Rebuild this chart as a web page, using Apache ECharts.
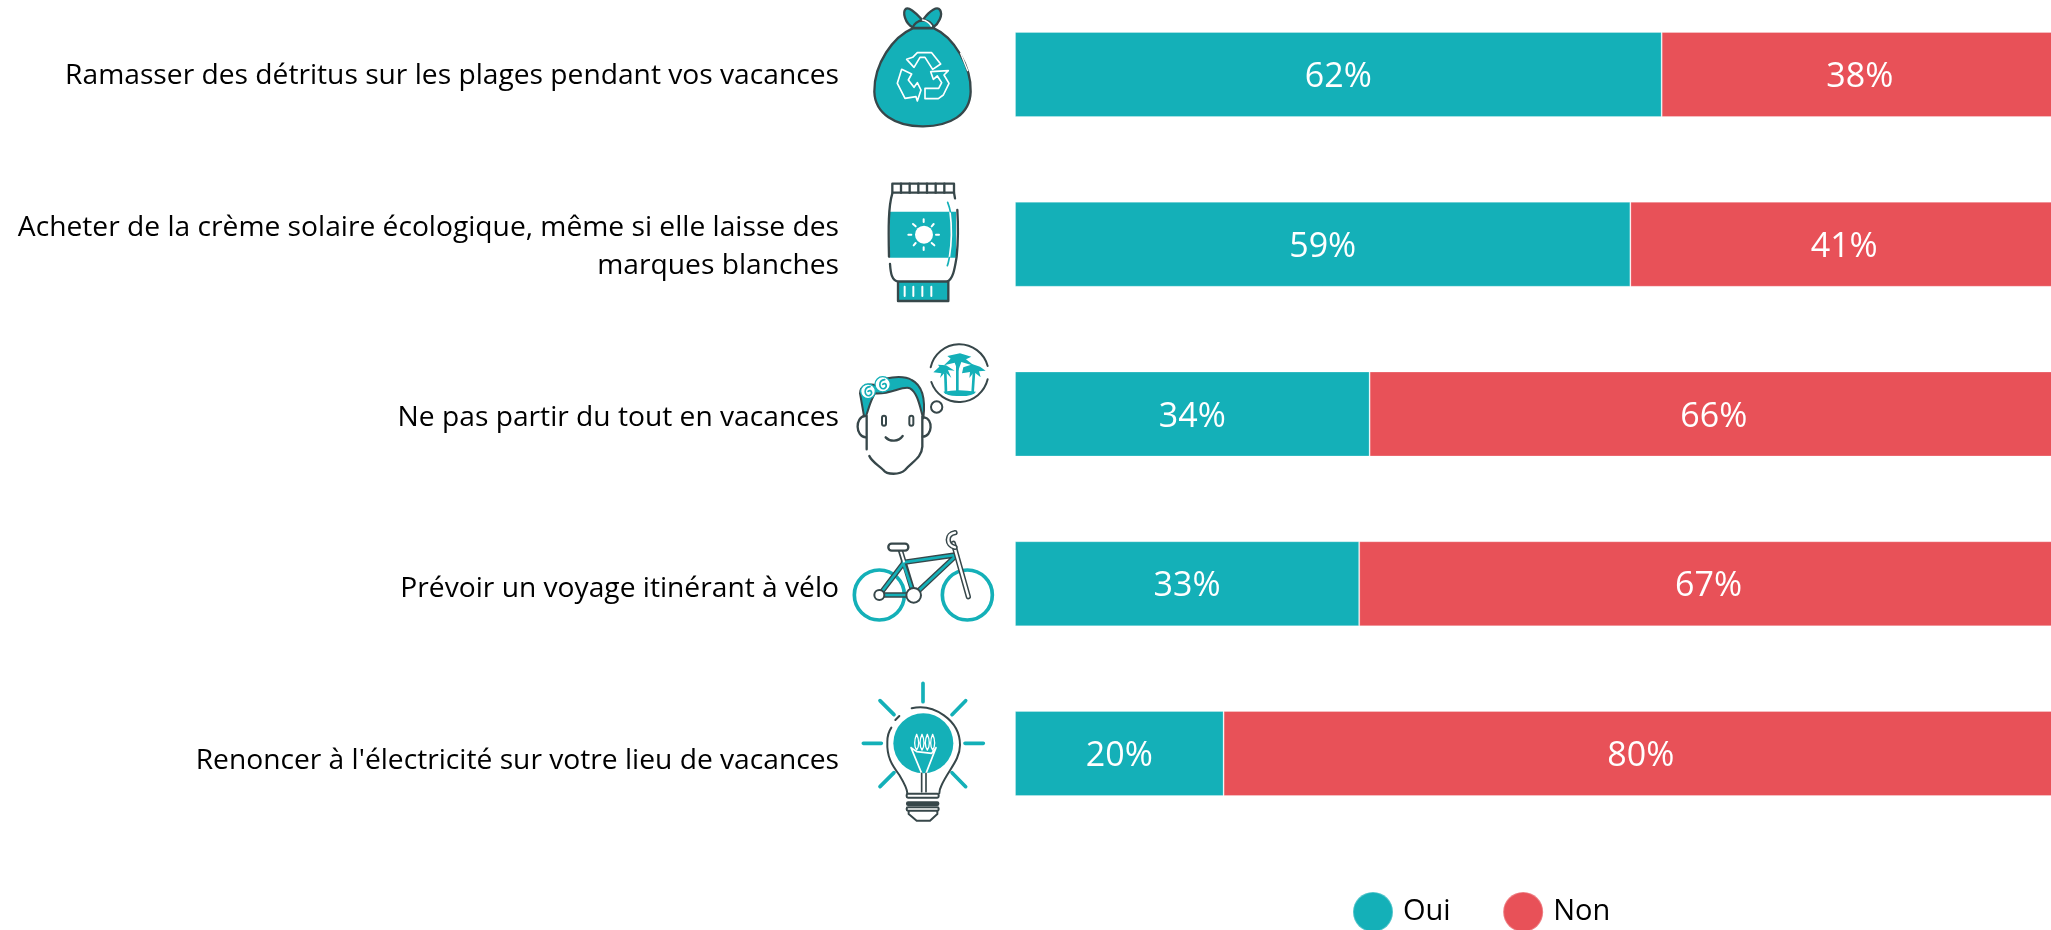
<!DOCTYPE html>
<html><head><meta charset="utf-8">
<style>html,body{margin:0;padding:0;background:#fff;overflow:hidden}#c{width:2051px;height:930px}</style>
<script src="https://cdn.jsdelivr.net/npm/echarts@6/dist/echarts.min.js"></script>
</head><body><div id="c"></div>
<script>
const categories = [
  "Ramasser des détritus sur les plages pendant vos vacances",
  "Acheter de la crème solaire écologique, même si elle laisse des\nmarques blanches",
  "Ne pas partir du tout en vacances",
  "Prévoir un voyage itinérant à vélo",
  "Renoncer à l'électricité sur votre lieu de vacances"
];
const oui = [62, 59, 34, 33, 20];
const non = [38, 41, 66, 67, 80];
const labelNudge = [1, 3, 4, 5, 7];
const TEAL = '#14b0b8', RED = '#e85158', DARK = '#37474a', FONT = '"Open Sans"';

const attrs = (f, s, w) => `fill="${f || 'none'}" stroke="${s || 'none'}" stroke-width="${w || 0}" stroke-linecap="round" stroke-linejoin="round"`;
const line = (d, c, w) => `<path d="${d}" ${attrs(null, c, w)}/>`;
const fill = (d, f, s, w) => `<path d="${d}" ${attrs(f, s, w)}/>`;
const circ = (cx, cy, r, f, s, w) => `<circle cx="${cx}" cy="${cy}" r="${r}" ${attrs(f, s, w)}/>`;
const rect = (x, y, width, height, f, s, w, r) => `<rect x="${x}" y="${y}" width="${width}" height="${height}" rx="${r || 0}" ${attrs(f, s, w)}/>`;
const icon = (ox, oy, vx, vy, vw, vh, parts) => ({
  type:'image', silent:true, z:10, x:ox + vx / 3, y:oy + vy / 3,
  style:{width:vw / 3, height:vh / 3, image:'data:image/svg+xml;charset=utf-8,' + encodeURIComponent(
    `<svg xmlns="http://www.w3.org/2000/svg" width="${vw * 2}" height="${vh * 2}" viewBox="${vx} ${vy} ${vw} ${vh}">${parts.join('')}</svg>`)}
});

const bag = icon(840, 0, 90, 10, 320, 380, [
  fill('M245 58C225 35 205 20 197 27C187 37 195 70 218 82Z', TEAL, DARK, 7),
  fill('M250 58C270 30 292 18 300 30C310 45 295 72 280 82Z', TEAL, DARK, 7),
  fill('M218 84C225 58 268 50 282 84Z', TEAL, DARK, 7),
  line('M248 60C258 62 268 68 274 78', '#fff', 5),
  fill('M218 85L282 85C340 110 395 200 392 275C390 345 330 378 250 379C165 380 105 340 103 275C102 190 160 110 218 85Z', TEAL, DARK, 7),
  line('M362 160L383 212', '#fff', 4),
  line('M200 178L218 172L232 158L275 158L302 192L278 208L255 172L240 172L222 202Z', '#fff', 5),
  line('M272 215L325 212L312 225L327 250L310 285L295 296L255 296L255 265L296 265L305 248L292 228L280 238Z', '#fff', 5),
  line('M185 208L215 222L205 240L222 262L232 248L243 270L232 303L228 290L195 295L172 250Z', '#fff', 5)
]);

const sunRays = 'M251 658L251 666M281 672L275 679M297 704L288 704M283 736L275 729M251 750L251 742M221 736L227 729M205 704L214 704M219 672L227 679';
const tube = icon(840, 0, 130, 535, 240, 380, [
  fill('M149 635L348 635L348 773L149 773Z', TEAL),
  line('M157 580C145 620 145 680 147 770M150 792C152 820 155 842 175 845L320 845C340 840 345 800 350 770C355 720 355 680 352 630M342 578L345 595', DARK, 7),
  rect(157, 551, 185, 27, '#fff', DARK, 7),
  line('M183 551L183 578M209 551L209 578M235 551L235 578M261 551L261 578M287 551L287 578M313 551L313 578', DARK, 7),
  line('M330 635C336 680 335 730 328 773', '#fff', 5),
  line('M323 607C328 620 330 628 331 635M328 773C326 782 325 790 322 797', TEAL, 5),
  circ(252, 704, 27, '#fff'),
  line(sunRays, '#fff', 6),
  rect(174, 845, 151, 58, TEAL, DARK, 7),
  line('M194 860L194 888M220 860L220 888M247 860L247 888M274 860L274 888', '#fff', 6)
]);

const face = icon(840, 330, 30, 25, 430, 420, [
  line('M75 258C45 260 45 320 78 322M252 262C280 265 278 320 248 320', DARK, 7),
  line('M80 258L80 358M247 260L247 350C245 385 215 395 195 420C180 435 140 435 130 420C115 405 95 395 88 378', DARK, 7),
  fill('M72 258L60 190C60 165 85 160 110 165C120 140 190 135 215 150C245 165 258 200 250 265C240 235 235 190 210 175C190 165 150 195 105 190C90 215 85 240 78 258Z', TEAL, DARK, 6),
  circ(84, 184, 22, '#fff', TEAL, 4),
  circ(128, 163, 23, '#fff', TEAL, 4),
  line('M84 184C94 176 100 192 88 197C72 200 70 172 90 170', TEAL, 5),
  line('M128 163C138 155 144 171 132 176C116 179 114 151 134 149', TEAL, 5),
  rect(126, 257, 12, 30, '#fff', DARK, 6, 6),
  rect(208, 257, 12, 30, '#fff', DARK, 6, 6),
  line('M137 322C150 336 175 336 188 318', DARK, 7),
  line('M272 112A88 88 0 0 1 443 108M443 148A88 88 0 0 1 274 156', DARK, 6),
  circ(290, 231, 17, '#fff', DARK, 6),
  fill('M310 185Q355 176 408 185Q400 200 350 198Q320 198 310 185Z', TEAL),
  line('M352 188L352 98M318 188L316 130M398 186L402 125', TEAL, 8),
  fill('M312 106L332 86L322 78L360 70L394 80L378 88L404 108L364 96L354 124L344 98Z', TEAL),
  fill('M280 127L298 110L294 104L318 106L344 122L324 120L334 144L316 126L300 144L304 130Z', TEAL),
  fill('M370 112L398 103L420 110L437 122L417 124L422 142L402 126L388 144L390 126L366 130Z', TEAL)
]);

const bike = icon(840, 330, 30, 590, 440, 295, [
  circ(118, 795, 75, null, TEAL, 11),
  circ(382, 795, 75, null, TEAL, 11),
  line('M190 697L345 675M345 680L222 795M178 650L222 795M118 795L190 700M118 795L222 795', DARK, 16),
  line('M190 697L345 675M345 680L222 795M190 700L222 795M118 795L190 700M118 795L222 795', TEAL, 8),
  line('M178 650L192 695', '#fff', 6),
  line('M340 640L385 800', DARK, 16),
  line('M340 640L385 800', '#fff', 7),
  line('M345 652C318 645 318 612 345 608', DARK, 16),
  line('M345 652C318 645 318 612 345 608', '#fff', 7),
  rect(145, 641, 60, 21, '#fff', DARK, 7, 10),
  circ(118, 795, 15, '#fff', DARK, 6),
  circ(221, 796, 22, '#fff', DARK, 6)
]);

const bulb = icon(850, 670, 25, 25, 390, 440, [
  line('M219 40L219 95M90 92L132 134M347 92L306 134M40 220L94 220M345 220L400 220M132 308L90 350M306 308L347 350', TEAL, 11),
  circ(220, 220, 90, TEAL),
  line('M185 115C250 100 330 150 330 225C330 270 295 300 275 345C270 355 268 365 268 370M172 370C172 355 160 335 148 315C125 285 110 260 112 215C112 195 118 182 124 173M136 150L148 138', DARK, 6),
  line('M183 233L215 310M258 233L228 310M183 233L200 245L245 250L258 233', '#fff', 5),
  line('M200 193C192 210 192 230 200 240C208 230 208 210 200 193M216 193C208 210 208 230 216 240C224 230 224 210 216 193M232 193C224 210 224 230 232 240C240 230 240 210 232 193M248 193C240 210 240 230 248 240C256 230 256 210 248 193', '#fff', 4),
  line('M215 310L215 365M228 310L228 365', DARK, 5),
  rect(170, 371, 96, 12, '#fff', DARK, 6, 4),
  rect(170, 396, 96, 10, DARK, DARK, 4, 4),
  rect(170, 412, 96, 10, '#fff', DARK, 6, 4),
  line('M176 424L176 432L200 452L240 452L262 432L262 424', DARK, 6)
]);

const richRows = {};
labelNudge.forEach((n, i) => { richRows['r' + i] = {color:'#000', fontFamily:FONT, fontSize:28.2, lineHeight:38, padding:[n * 2, 0, 0, 0]}; });

const chart = echarts.init(document.getElementById('c'));
const lbl = {show:true, position:'inside', offset:[0,3], color:'#fff', fontFamily:FONT, fontSize:34, fontWeight:400, formatter:p => p.value + '%'};
chart.setOption({
  animation:false,
  backgroundColor:'#fff',
  textStyle:{fontFamily:FONT},
  grid:{left:1015, top:74.5, width:1043, height:679, containLabel:false, outerBoundsMode:'none'},
  xAxis:{type:'value', min:0, max:100, show:false},
  yAxis:{type:'category', inverse:true, boundaryGap:false, data:categories,
    axisLine:{show:false}, axisTick:{show:false}, splitLine:{show:false},
    axisLabel:{margin:176, align:'right', color:'#000', fontFamily:FONT, fontSize:28.2, lineHeight:38, interval:0,
      formatter:(v, i) => v.split('\n').map(s => `{r${i}|${s}}`).join('\n'), rich:richRows}},
  legend:{left:1352, top:891, padding:0, itemWidth:40, itemHeight:40, itemGap:51.5, icon:'circle',
    textStyle:{color:'#000', fontFamily:FONT, fontSize:29, padding:[0,0,0,5]}, data:['Oui','Non']},
  series:[
    {name:'Oui', type:'bar', stack:'t', data:oui, barWidth:85, itemStyle:{color:TEAL, borderColor:'rgba(255,255,255,0.25)', borderWidth:1}, label:lbl},
    {name:'Non', type:'bar', stack:'t', data:non, barWidth:85, itemStyle:{color:RED, borderColor:'rgba(255,255,255,0.25)', borderWidth:1}, label:lbl}
  ],
  graphic:[bag, tube, face, bike, bulb]
});
</script></body></html>
